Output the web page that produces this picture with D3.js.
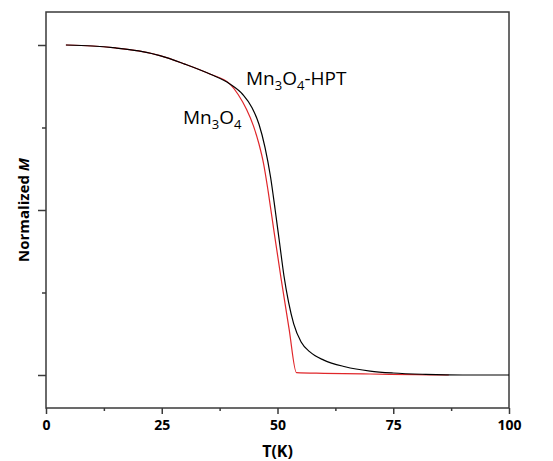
<!DOCTYPE html>
<html>
<head>
<meta charset="utf-8">
<script src="https://cdn.jsdelivr.net/npm/d3@7"></script>
<style>
  html, body { margin: 0; padding: 0; background: #fff; }
  svg { display: block; }
</style>
</head>
<body>
<svg id="chart" width="553" height="461"></svg>
<script>
// ---- data ----
const hptT = [4.3, 10, 15, 20, 24.6, 30, 35.4, 39.7, 42.5, 44.5, 46, 47.3, 48.5, 49.5, 50.45, 51.4, 52.4, 53.5, 55.1, 57, 60, 64.6, 70, 75, 82, 90, 100];
const hptM = [1.0, 0.997, 0.991, 0.982, 0.968, 0.942, 0.912, 0.882, 0.85, 0.81, 0.76, 0.69, 0.6, 0.5, 0.4, 0.3, 0.22, 0.155, 0.1, 0.07, 0.045, 0.025, 0.012, 0.006, 0.002, 0, 0];
const mnT  = [4.3, 10, 15, 20, 24.6, 30, 35.4, 39.7, 41.5, 43.3, 44.8, 46, 47, 48, 49.3, 50.8, 52.5, 54.1, 60, 70, 80, 87];
const mnM  = [1.0, 0.997, 0.991, 0.982, 0.968, 0.942, 0.912, 0.882, 0.85, 0.805, 0.755, 0.70, 0.64, 0.555, 0.43, 0.29, 0.14, 0.007, 0.005, 0.003, 0.001, 0];
const xTicks = [0, 25, 50, 75, 100];
const xMinorTicks = [12.5, 37.5, 62.5, 87.5];
const yTicks = [0, 0.5, 1];
const yMinorTicks = [0.25, 0.75];

const svg = d3.select("#chart");
const mL = 46, mR = 509, mT = 12, mB = 408;
const x = d3.scaleLinear().domain([0, 100]).range([mL, mR]);
const y = d3.scaleLinear().domain([-0.1, 1.1]).range([mB, mT]);

const axisColor = "#3a3a3a";

// x axis
const xAxis = svg.append("g").attr("transform", `translate(0,${mB})`)
  .call(d3.axisBottom(x).tickValues(xTicks).tickSize(6).tickFormat(d3.format("d")));
const xMinor = svg.append("g").attr("transform", `translate(0,${mB})`)
  .call(d3.axisBottom(x).tickValues(xMinorTicks).tickSize(3).tickFormat(""));
// y axis
const yAxis = svg.append("g").attr("transform", `translate(${mL},0)`)
  .call(d3.axisLeft(y).tickValues(yTicks).tickSize(8).tickFormat(""));
const yMinor = svg.append("g").attr("transform", `translate(${mL},0)`)
  .call(d3.axisLeft(y).tickValues(yMinorTicks).tickSize(4).tickFormat(""));

[xAxis, xMinor, yAxis, yMinor].forEach(g => {
  g.select(".domain").remove();
  g.selectAll(".tick line").attr("stroke", axisColor).attr("stroke-width", 1.5);
});
xAxis.selectAll(".tick text")
  .attr("font-family", "'Open Sans', 'Noto Sans', sans-serif")
  .attr("font-weight", "bold").attr("font-size", 14).attr("fill", "#000")
  .attr("dy", "0.95em");

// frame
svg.append("rect").attr("x", mL).attr("y", mT)
  .attr("width", mR - mL).attr("height", mB - mT)
  .attr("fill", "none").attr("stroke", axisColor).attr("stroke-width", 1.5);

// lines
const line = d3.line().x(d => x(d[0])).y(d => y(d[1])).curve(d3.curveMonotoneX);
svg.append("path").datum(mnT.map((t, i) => [t, mnM[i]]))
  .attr("d", line).attr("fill", "none").attr("stroke", "#e0262a").attr("stroke-width", 1.2);
svg.append("path").datum(hptT.map((t, i) => [t, hptM[i]]))
  .attr("d", line).attr("fill", "none").attr("stroke", "#000").attr("stroke-width", 1.2);

// series labels
function chem(sel, parts) {
  parts.forEach(p => {
    if (p.sub) sel.append("tspan").attr("font-size", 13).attr("dy", 5).text(p.t);
    else sel.append("tspan").attr("dy", p.reset ? -5 : 0).text(p.t);
  });
}
const lblFont = "'Open Sans', 'Noto Sans', sans-serif";
const l1 = svg.append("text").attr("x", 246).attr("y", 85)
  .attr("font-family", lblFont).attr("font-size", 19).attr("fill", "#000");
chem(l1, [{t: "Mn"}, {t: "3", sub: true}, {t: "O", reset: true}, {t: "4", sub: true}, {t: "-HPT", reset: true}]);
const l2 = svg.append("text").attr("x", 183).attr("y", 124)
  .attr("font-family", lblFont).attr("font-size", 19).attr("fill", "#000");
chem(l2, [{t: "Mn"}, {t: "3", sub: true}, {t: "O", reset: true}, {t: "4", sub: true}]);

// axis titles
svg.append("text").attr("x", (mL + mR) / 2).attr("y", 457)
  .attr("text-anchor", "middle").attr("font-family", lblFont)
  .attr("font-weight", "bold").attr("font-size", 16).text("T(K)");
const yt = svg.append("text").attr("transform", `translate(29,${(mT + mB) / 2}) rotate(-90)`)
  .attr("text-anchor", "middle").attr("font-family", lblFont)
  .attr("font-weight", "bold").attr("font-size", 15);
yt.append("tspan").text("Normalized ");
yt.append("tspan").attr("font-style", "italic").text("M");
</script>
</body>
</html>
